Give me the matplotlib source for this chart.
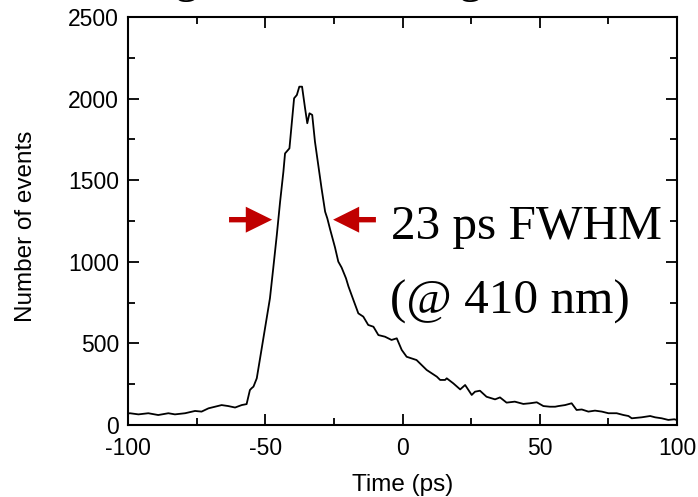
import matplotlib
matplotlib.use('Agg')
import matplotlib.pyplot as plt
from matplotlib.patches import FancyArrow
from matplotlib.ticker import MultipleLocator

# time histogram
time_ps = [-100.0, -99.3, -96.2, -92.6, -89.0, -85.3, -82.9, -79.2, -75.6, -73.2,
           -70.7, -68.3, -65.9, -63.5, -61.0, -58.6, -56.8, -55.6, -55.0, -54.3,
           -53.1, -51.9, -50.1, -48.3, -47.1, -45.8, -44.6, -43.4, -42.8, -41.2,
           -40.3, -39.5, -38.5, -37.6, -36.6, -35.5, -34.7, -33.9, -32.9, -31.9,
           -30.7, -29.5, -28.2, -27.4, -26.4, -24.6, -23.4, -22.2, -20.6, -19.7,
           -17.9, -16.1, -14.3, -12.5, -10.6, -8.8, -6.4, -4.0, -2.1, -0.3,
           1.5, 5.1, 8.8, 12.5, 13.7, 15.5, 16.1, 18.5, 21.0, 22.8,
           25.2, 26.4, 28.2, 30.6, 33.7, 35.5, 37.9, 40.9, 44.0, 46.4,
           48.9, 51.3, 53.7, 55.6, 56.8, 59.2, 61.6, 63.4, 65.3, 67.7,
           70.1, 72.6, 75.0, 78.0, 80.5, 82.3, 83.5, 87.1, 90.2, 92.0,
           94.4, 96.8, 99.0, 100.0]
counts = [70, 72, 65, 72, 61, 72, 65, 72, 86, 82,
          102, 112, 122, 116, 107, 122, 128, 214, 225, 235,
          286, 408, 592, 776, 960, 1164, 1368, 1552, 1664, 1695,
          1858, 2002, 2022, 2073, 2073, 1940, 1849, 1910, 1900, 1736,
          1593, 1450, 1307, 1266, 1200, 1088, 1001, 965, 899, 849,
          766, 684, 664, 613, 602, 551, 541, 521, 531, 460,
          418, 398, 337, 296, 276, 276, 286, 255, 218, 245,
          184, 204, 210, 173, 157, 169, 137, 143, 129, 133,
          139, 116, 112, 112, 116, 122, 133, 92, 95, 82,
          88, 82, 72, 72, 61, 55, 41, 47, 55, 47,
          41, 31, 35, 30]

fwhm_label = '23 ps FWHM'
wl_label = '(@ 410 nm)'
arrow_red = '#C00000'

plt.rcParams['font.family'] = 'Liberation Sans'
plt.rcParams['axes.unicode_minus'] = False

fig = plt.figure(figsize=(6.98, 4.97), dpi=100)
ax = fig.add_axes([0.1834, 0.1449, 0.7866, 0.8209])

ax.plot(time_ps, counts, color='black', lw=1.3)

ax.set_xlim(-100, 100)
ax.set_ylim(0, 2500)
ax.xaxis.set_major_locator(MultipleLocator(50))
ax.xaxis.set_minor_locator(MultipleLocator(25))
ax.yaxis.set_major_locator(MultipleLocator(500))
ax.yaxis.set_minor_locator(MultipleLocator(250))
ax.tick_params(which='both', direction='in', top=True, right=True,
               labelsize=16.5, width=1.3, pad=6.5, colors='black')
ax.tick_params(axis='x', which='both', pad=8.5)
ax.tick_params(which='major', length=8)
ax.tick_params(which='minor', length=5)
for s in ax.spines.values():
    s.set_linewidth(1.5)

ax.set_xlabel('Time (ps)', fontsize=17.5)
ax.set_ylabel('Number of events', fontsize=17.5)
ax.xaxis.set_label_coords(0.5, -0.12)
ax.yaxis.set_label_coords(-0.166, 0.488)

# FWHM markers
ax.add_patch(FancyArrow(-63.2, 1258, 15.7, 0, width=33, head_width=159,
                        head_length=9.6, length_includes_head=True,
                        color=arrow_red, lw=0))
ax.add_patch(FancyArrow(-9.7, 1258, -15.6, 0, width=33, head_width=159,
                        head_length=9.5, length_includes_head=True,
                        color=arrow_red, lw=0))

ax.text(-4.2, 1140, fwhm_label, family='Liberation Serif', fontsize=35.5,
        va='baseline', ha='left')
ax.text(-4.6, 684, wl_label, family='Liberation Serif', fontsize=35.5,
        va='baseline', ha='left')

# title cut off by the top edge, only descenders show
fig.text(187 / 698, 1.016, 'g', family='Liberation Serif', fontsize=34,
         ha='center', va='baseline')
fig.text(471 / 698, 1.016, 'g', family='Liberation Serif', fontsize=34,
         ha='center', va='baseline')

fig.savefig('out.png', dpi=100)
